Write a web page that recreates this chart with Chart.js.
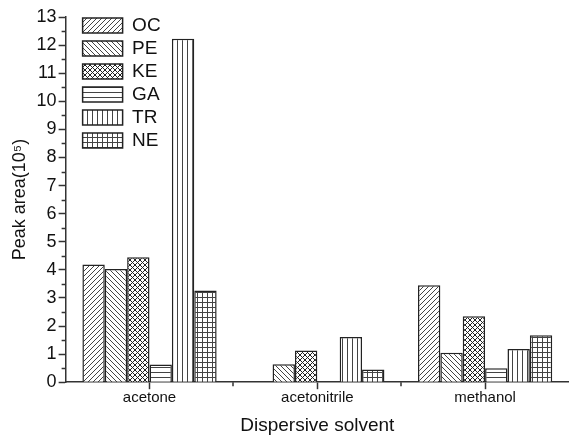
<!DOCTYPE html>
<html>
<head>
<meta charset="utf-8">
<script src="https://cdn.jsdelivr.net/npm/chart.js@4.4.0/dist/chart.umd.min.js"></script>
<style>
  html, body { margin: 0; padding: 0; background: #fff; }
  #wrap { width: 569px; height: 437px; position: relative; }
</style>
</head>
<body>
<div id="wrap"><canvas id="chart"></canvas></div>
<script>
// Data
const solvents = ["acetone", "acetonitrile", "methanol"];
const seriesNames = ["OC", "PE", "KE", "GA", "TR", "NE"];
const ocValues = [4.19, 0, 3.45];
const peValues = [4.03, 0.64, 1.05];
const keValues = [4.45, 1.13, 2.35];
const gaValues = [0.63, 0, 0.5];
const trValues = [12.23, 1.61, 1.18];
const neValues = [3.26, 0.45, 1.67];
const yTicks = [0, 1, 2, 3, 4, 5, 6, 7, 8, 9, 10, 11, 12, 13];

const FONT = "'Liberation Sans', Arial, sans-serif";
const INK = "#333";

// Hatch patterns
function makePattern(kind) {
  const s = 5;
  const c = document.createElement("canvas");
  c.width = s;
  c.height = s;
  const g = c.getContext("2d");
  g.fillStyle = "#fff";
  g.fillRect(0, 0, s, s);
  g.strokeStyle = kind === "cross" ? "#222" : "#444";
  g.lineWidth = 1;
  g.beginPath();
  if (kind === "fwd" || kind === "cross") {
    g.moveTo(-1, s + 1); g.lineTo(s + 1, -1);
    g.moveTo(-1, 1); g.lineTo(1, -1);
    g.moveTo(s - 1, s + 1); g.lineTo(s + 1, s - 1);
  }
  if (kind === "back" || kind === "cross") {
    g.moveTo(-1, -1); g.lineTo(s + 1, s + 1);
    g.moveTo(s - 1, -1); g.lineTo(s + 1, 1);
    g.moveTo(-1, s - 1); g.lineTo(1, s + 1);
  }
  if (kind === "horiz" || kind === "grid") {
    g.moveTo(0, 2.5); g.lineTo(s, 2.5);
  }
  if (kind === "vert" || kind === "grid") {
    g.moveTo(2.5, 0); g.lineTo(2.5, s);
  }
  g.stroke();
  return g.createPattern(c, "repeat");
}

const patterns = ["fwd", "back", "cross", "horiz", "vert", "grid"].map(makePattern);
const allValues = [ocValues, peValues, keValues, gaValues, trValues, neValues];

// Minor ticks on both axes
const minorTicks = {
  id: "minorTicks",
  afterDraw(chart) {
    const ctx = chart.ctx;
    const x = chart.scales.x;
    const y = chart.scales.y;
    ctx.save();
    ctx.strokeStyle = INK;
    ctx.lineWidth = 1.5;
    ctx.beginPath();
    for (let v = 0.5; v < 13; v += 1) {
      const py = Math.round(y.getPixelForValue(v)) + 0.5;
      ctx.moveTo(x.left - 4, py);
      ctx.lineTo(x.left, py);
    }
    for (let i = 0; i < solvents.length - 1; i++) {
      const px = Math.round((x.getPixelForValue(i) + x.getPixelForValue(i + 1)) / 2);
      ctx.moveTo(px, y.bottom);
      ctx.lineTo(px, y.bottom + 4);
    }
    ctx.stroke();
    ctx.restore();
  },
};

// Nudge the in-plot legend away from the axes
const legendShift = {
  id: "legendShift",
  afterLayout(chart) {
    const lg = chart.legend;
    if (!lg) return;
    lg.left += 13;
    lg.right += 13;
    lg.top += 12;
    lg.bottom += 12;
  },
};

new Chart(document.getElementById("chart"), {
  type: "bar",
  data: {
    labels: solvents,
    datasets: seriesNames.map((name, i) => ({
      label: name,
      data: allValues[i],
      backgroundColor: patterns[i],
      borderColor: "#222",
      borderWidth: 1.5,
      categoryPercentage: 0.8,
      barPercentage: 1.0,
    })),
  },
  options: {
    responsive: true,
    maintainAspectRatio: false,
    animation: false,
    layout: { padding: { top: 17, right: -3, left: 9, bottom: 0 } },
    plugins: {
      tooltip: { enabled: false },
      legend: {
        position: "chartArea",
        align: "start",
        labels: {
          boxWidth: 40,
          boxHeight: 15,
          padding: 4,
          color: "#111",
          font: { family: FONT, size: 19 },
        },
      },
    },
    scales: {
      x: {
        grid: {
          offset: false,
          drawOnChartArea: false,
          tickLength: 7,
          tickColor: INK,
          tickWidth: 1.5,
        },
        border: { color: INK, width: 1.5 },
        ticks: { color: "#111", font: { family: FONT, size: 15 }, padding: 0 },
        title: {
          display: true,
          text: "Dispersive solvent",
          color: "#111",
          font: { family: FONT, size: 19 },
          padding: { top: 7, bottom: 0 },
        },
      },
      y: {
        min: 0,
        max: 13,
        afterBuildTicks: (scale) => {
          scale.ticks = yTicks.map((v) => ({ value: v }));
        },
        grid: {
          drawOnChartArea: false,
          tickLength: 7,
          tickColor: INK,
          tickWidth: 1.5,
        },
        border: { color: INK, width: 1.5 },
        ticks: { color: "#111", font: { family: FONT, size: 18 }, padding: 2 },
        title: {
          display: true,
          text: "Peak area(10\u2075)",
          color: "#111",
          font: { family: FONT, size: 18 },
          padding: { top: 0, bottom: 4 },
        },
      },
    },
  },
  plugins: [minorTicks, legendShift],
});
</script>
</body>
</html>
